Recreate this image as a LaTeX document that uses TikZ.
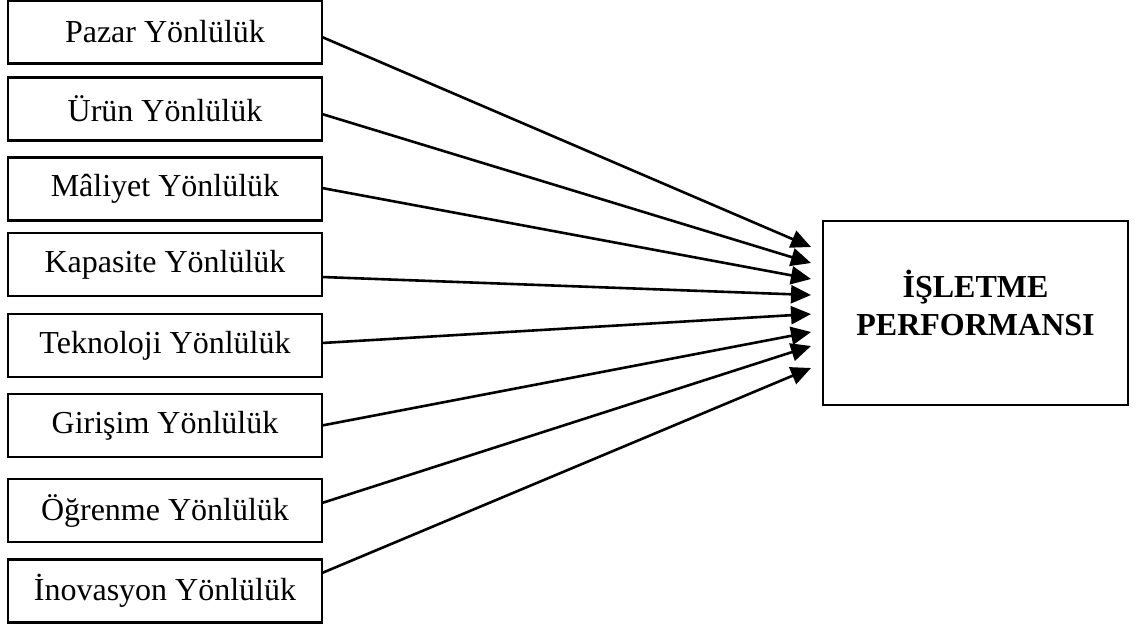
\documentclass[tikz,border=0pt]{standalone}
\usepackage{fontspec}
\setmainfont{Liberation Serif}
\usetikzlibrary{arrows.meta}

\begin{document}
\begin{tikzpicture}[x=1pt, y=-1pt,
  factor/.style={draw, line width=2.4pt, minimum width=314pt, minimum height=63pt,
    inner sep=0pt, outer sep=0pt, font=\fontsize{32}{38}\selectfont},
  outcome/.style={draw, line width=2.4pt, minimum width=305pt, minimum height=184pt,
    inner sep=0pt, outer sep=0pt,
    font=\fontsize{32}{38}\selectfont\bfseries},
  link/.style={line width=2.6pt, -{Triangle[length=20pt,width=18pt]}}]

\useasboundingbox (0,0) rectangle (1139,624);

% orientation factors
\node[factor] (p1) at (165,32)    {Pazar Yönlülük};
\node[factor] (p2) at (165,109)   {Ürün Yönlülük};
\node[factor] (p3) at (165,189)   {Mâliyet Yönlülük};
\node[factor] (p4) at (165,264.5) {Kapasite Yönlülük};
\node[factor] (p5) at (165,345.5) {Teknoloji Yönlülük};
\node[factor] (p6) at (165,425.5) {Girişim Yönlülük};
\node[factor] (p7) at (165,510.5) {Öğrenme Yönlülük};
\node[factor] (p8) at (165,591)   {İnovasyon Yönlülük};

% business performance
\node[outcome] (perf) at (975.5,313)
  {\raisebox{4.5pt}[\height][\depth]{\begin{tabular}{@{}c@{}}İŞLETME\\PERFORMANSI\end{tabular}}};

% arrow tips in front of the performance box
\coordinate (t1) at (811,247);
\coordinate (t2) at (811,263);
\coordinate (t3) at (811,279);
\coordinate (t4) at (811,295);
\coordinate (t5) at (811,314);
\coordinate (t6) at (811,332);
\coordinate (t7) at (811,346);
\coordinate (t8) at (811,368);

\draw[link] ([yshift=-5pt]p1.east)    -- (t1);
\draw[link] ([yshift=-5pt]p2.east)    -- (t2);
\draw[link] ([yshift=1pt]p3.east)     -- (t3);
\draw[link] ([yshift=-12.5pt]p4.east) -- (t4);
\draw[link] ([yshift=2.5pt]p5.east)   -- (t5);
\draw[link] (p6.east)                 -- (t6);
\draw[link] ([yshift=7.5pt]p7.east)   -- (t7);
\draw[link] ([yshift=18pt]p8.east)    -- (t8);

\end{tikzpicture}
\end{document}
